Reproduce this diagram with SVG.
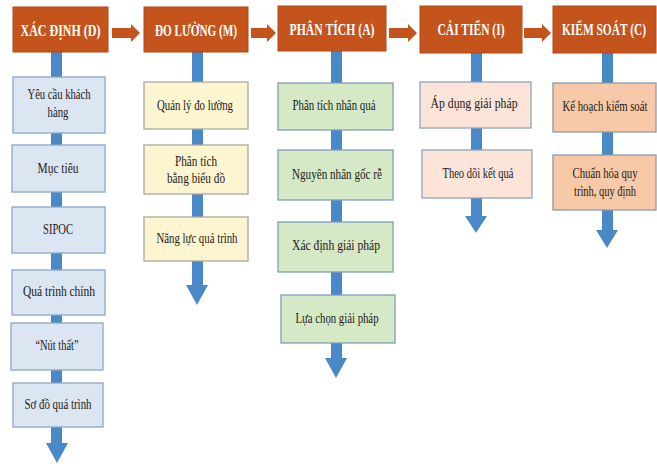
<svg xmlns="http://www.w3.org/2000/svg" width="657" height="464" viewBox="0 0 657 464">
<style>
.hdr{fill:#C4531C;stroke:#B04816;stroke-width:1}
.ht{font-family:"Liberation Serif",serif;font-weight:bold;font-size:17px;fill:#fff;text-anchor:middle}
.bt{font-family:"Liberation Serif",serif;font-size:15px;fill:#1a1a1a;text-anchor:middle}
.c1{fill:#DCE6F2;stroke:#8AA6C9;stroke-width:1.3}
.c2{fill:#FDF5CF;stroke:#A9A9A0;stroke-width:1.3}
.c3{fill:#D6E9C6;stroke:#7E9CBE;stroke-width:1.3}
.c4{fill:#FCE5D8;stroke:#8EA3C0;stroke-width:1.3}
.c5{fill:#F8C9A8;stroke:#8C9AAF;stroke-width:1.3}
.v{fill:#4A89C8}
.ha{fill:#C4531C}
</style>
<rect width="657" height="464" fill="#fff"/>
<g id="connectors">
<polygon class="ha" points="112,28 131,28 131,24 140,33 131,42 131,38 112,38"/>
<polygon class="ha" points="251,28 267,28 267,24 276,33 267,42 267,38 251,38"/>
<polygon class="ha" points="389,28 408,28 408,24 417,33 408,42 408,38 389,38"/>
<polygon class="ha" points="524,28 542,28 542,24 551,33 542,42 542,38 524,38"/>
<rect class="v" x="51" y="52" width="11" height="391"/>
<polygon class="v" points="46,443 68,443 57,463"/>
<rect class="v" x="192" y="52" width="11" height="233"/>
<polygon class="v" points="186,285 208,285 197,305"/>
<rect class="v" x="331" y="50" width="11" height="308"/>
<polygon class="v" points="325,358 347,358 336,378"/>
<rect class="v" x="471" y="52" width="11" height="164"/>
<polygon class="v" points="465,216 487,216 476,233"/>
<rect class="v" x="602" y="52" width="11" height="178"/>
<polygon class="v" points="596,230 618,230 607,248"/>
</g>
<g id="h-d"><rect class="hdr" x="13" y="7" width="95" height="45"/><text class="ht" x="60.5" y="36" textLength="80" lengthAdjust="spacingAndGlyphs">XÁC ĐỊNH (D)</text></g>
<g id="h-m"><rect class="hdr" x="144" y="7" width="104" height="45"/><text class="ht" x="196" y="36" textLength="82" lengthAdjust="spacingAndGlyphs">ĐO LƯỜNG (M)</text></g>
<g id="h-a"><rect class="hdr" x="278" y="6" width="108" height="45"/><text class="ht" x="332" y="35" textLength="85" lengthAdjust="spacingAndGlyphs">PHÂN TÍCH (A)</text></g>
<g id="h-i"><rect class="hdr" x="420" y="6" width="102" height="47"/><text class="ht" x="471" y="35" textLength="67" lengthAdjust="spacingAndGlyphs">CẢI TIẾN (I)</text></g>
<g id="h-c"><rect class="hdr" x="553" y="6" width="103" height="47"/><text class="ht" x="604" y="35" textLength="84" lengthAdjust="spacingAndGlyphs">KIỂM SOÁT (C)</text></g>

<g id="d1"><rect class="c1" x="13" y="77" width="92" height="56"/><text class="bt" x="59" y="99" textLength="63" lengthAdjust="spacingAndGlyphs">Yêu cầu khách</text><text class="bt" x="58" y="117" textLength="21" lengthAdjust="spacingAndGlyphs">hàng</text></g>
<g id="d2"><rect class="c1" x="12" y="145" width="93" height="47"/><text class="bt" x="58" y="173" textLength="41" lengthAdjust="spacingAndGlyphs">Mục tiêu</text></g>
<g id="d3"><rect class="c1" x="12" y="207" width="93" height="46"/><text class="bt" x="58" y="234" textLength="30" lengthAdjust="spacingAndGlyphs">SIPOC</text></g>
<g id="d4"><rect class="c1" x="12" y="270" width="93" height="45"/><text class="bt" x="59" y="296" textLength="72" lengthAdjust="spacingAndGlyphs">Quá trình chính</text></g>
<g id="d5"><rect class="c1" x="11" y="323" width="92" height="47"/><text class="bt" x="57" y="350" textLength="43" lengthAdjust="spacingAndGlyphs">“Nút thất”</text></g>
<g id="d6"><rect class="c1" x="13" y="383" width="90" height="44"/><text class="bt" x="58" y="409" textLength="67" lengthAdjust="spacingAndGlyphs">Sơ đồ quá trình</text></g>

<g id="m1"><rect class="c2" x="144" y="82" width="104" height="47"/><text class="bt" x="195" y="110" textLength="76" lengthAdjust="spacingAndGlyphs">Quản lý đo lường</text></g>
<g id="m2"><rect class="c2" x="144" y="145" width="104" height="49"/><text class="bt" x="196" y="166" textLength="42" lengthAdjust="spacingAndGlyphs">Phân tích</text><text class="bt" x="196" y="183" textLength="58" lengthAdjust="spacingAndGlyphs">bằng biểu đồ</text></g>
<g id="m3"><rect class="c2" x="144" y="217" width="104" height="44"/><text class="bt" x="197" y="243" textLength="81" lengthAdjust="spacingAndGlyphs">Năng lực quá trình</text></g>

<g id="a1"><rect class="c3" x="278" y="83" width="115" height="47"/><text class="bt" x="334" y="110" textLength="83" lengthAdjust="spacingAndGlyphs">Phân tích nhân quả</text></g>
<g id="a2"><rect class="c3" x="278" y="150" width="115" height="50"/><text class="bt" x="337" y="179" textLength="90" lengthAdjust="spacingAndGlyphs">Nguyên nhân gốc rễ</text></g>
<g id="a3"><rect class="c3" x="278" y="222" width="115" height="50"/><text class="bt" x="336" y="250" textLength="88" lengthAdjust="spacingAndGlyphs">Xác định giải pháp</text></g>
<g id="a4"><rect class="c3" x="281" y="295" width="114" height="48"/><text class="bt" x="337" y="323" textLength="83" lengthAdjust="spacingAndGlyphs">Lựa chọn giải pháp</text></g>

<g id="i1"><rect class="c4" x="420" y="82" width="111" height="46"/><text class="bt" x="474" y="108" textLength="87" lengthAdjust="spacingAndGlyphs">Áp dụng giải pháp</text></g>
<g id="i2"><rect class="c4" x="422" y="150" width="110" height="48"/><text class="bt" x="478" y="178" textLength="71" lengthAdjust="spacingAndGlyphs">Theo dõi kết quả</text></g>

<g id="c1"><rect class="c5" x="553" y="83" width="103" height="49"/><text class="bt" x="605" y="111" textLength="85" lengthAdjust="spacingAndGlyphs">Kế hoạch kiểm soát</text></g>
<g id="c2"><rect class="c5" x="553" y="155" width="103" height="55"/><text class="bt" x="605" y="178" textLength="65" lengthAdjust="spacingAndGlyphs">Chuẩn hóa quy</text><text class="bt" x="605" y="196" textLength="62" lengthAdjust="spacingAndGlyphs">trình, quy định</text></g>
</svg>
